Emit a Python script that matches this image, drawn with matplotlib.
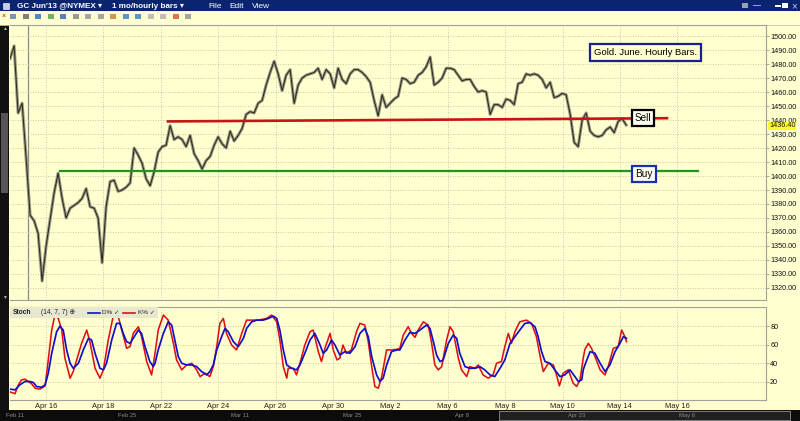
import numpy as np
import matplotlib
matplotlib.use('Agg')
import matplotlib.pyplot as plt
from matplotlib.patches import Rectangle

plt.rcParams['font.family'] = ['Liberation Sans', 'DejaVu Sans']

# ---------------- data ----------------
# hourly closes (sampled roughly every 3 bars), time axis in trading days (Apr 15 = 0)
price_start = -0.25
price_step = 0.1394
close = [1484, 1493, 1445, 1452, 1413, 1372, 1368, 1359, 1325, 1350,
         1369, 1388, 1402, 1384, 1370, 1377, 1379, 1381, 1384, 1391,
         1378, 1377, 1370, 1338, 1378, 1396, 1397, 1389, 1390, 1392,
         1395, 1420, 1415, 1409, 1398, 1393, 1403, 1417, 1421, 1422,
         1436, 1426, 1428, 1426, 1421, 1429, 1416, 1411, 1405, 1411,
         1414, 1422, 1428, 1423, 1420, 1432, 1425, 1429, 1434, 1444,
         1446, 1445, 1452, 1454, 1465, 1474, 1482, 1473, 1461, 1472,
         1476, 1452, 1465, 1470, 1472, 1473, 1474, 1477, 1469, 1476,
         1473, 1463, 1477, 1469, 1466, 1473, 1476, 1476, 1474, 1471,
         1467, 1454, 1443, 1458, 1449, 1452, 1455, 1457, 1470, 1469,
         1466, 1467, 1472, 1474, 1478, 1485, 1465, 1467, 1470, 1477,
         1477, 1476, 1472, 1468, 1469, 1469, 1464, 1460, 1461, 1460,
         1444, 1451, 1451, 1449, 1455, 1454, 1451, 1466, 1467, 1473,
         1472, 1473, 1472, 1469, 1463, 1467, 1456, 1457, 1459, 1458,
         1444, 1424, 1421, 1440, 1445, 1432, 1429, 1428, 1429, 1433,
         1435, 1431, 1439, 1441, 1436.4]
last_price = 1436.40

# trend lines: (start day, start price, end day, end price)
sell_line = (5.25, 1439.0, 22.64, 1441.3)
buy_line = (1.49, 1403.6, 23.72, 1403.6)

# stochastic (14,7,7)
d_days = [-0.25, -0.08, 0.09, 0.27, 0.44, 0.56, 0.67, 0.85, 0.97, 1.08, 1.20, 1.37, 1.49, 1.60,
          1.72, 1.84, 1.95, 2.13, 2.30, 2.48, 2.59, 2.71, 2.88, 3.00, 3.11, 3.29, 3.46, 3.58,
          3.69, 3.81, 3.93, 4.04, 4.22, 4.33, 4.45, 4.62, 4.74, 4.80, 4.91, 5.09, 5.26, 5.38,
          5.49, 5.61, 5.73, 5.90, 6.08, 6.25, 6.42, 6.60, 6.71, 6.83, 6.95, 7.12, 7.24, 7.35,
          7.53, 7.70, 7.88, 7.99, 8.17, 8.34, 8.57, 8.75, 8.92, 9.04, 9.15, 9.27, 9.39, 9.56,
          9.73, 9.85, 10.02, 10.20, 10.37, 10.55, 10.66, 10.78, 10.95, 11.07, 11.24, 11.42,
          11.59, 11.77, 11.94, 12.11, 12.23, 12.35, 12.52, 12.64, 12.75, 12.87, 13.04, 13.22,
          13.33, 13.51, 13.68, 13.86, 14.03, 14.26, 14.38, 14.50, 14.61, 14.73, 14.84, 15.02,
          15.19, 15.31, 15.42, 15.60, 15.77, 15.95, 16.12, 16.29, 16.47, 16.64, 16.82, 16.99,
          17.17, 17.34, 17.51, 17.69, 17.86, 18.04, 18.15, 18.27, 18.39, 18.56, 18.73, 18.91,
          19.08, 19.26, 19.43, 19.55, 19.67, 19.72, 19.78, 19.96, 20.13, 20.31, 20.48, 20.65,
          20.83, 21.00, 21.12, 21.23]
d_vals = [12.2, 11.4, 16.8, 20.4, 20.4, 19.3, 15.0, 14.3, 16.8, 29.3, 50.7, 73.9, 80.0, 75.7,
          54.3, 40.0, 34.6, 40.0, 54.3, 66.8, 65.0, 50.7, 34.6, 32.9, 40.0, 65.0, 82.9, 82.9,
          72.1, 63.2, 61.4, 66.8, 75.7, 72.1, 57.9, 41.8, 36.4, 40.0, 54.3, 72.1, 84.6, 81.1,
          65.0, 47.2, 40.0, 38.2, 38.2, 36.4, 31.1, 27.5, 31.1, 38.2, 54.3, 68.6, 77.5, 73.9,
          63.2, 57.9, 66.8, 77.5, 84.6, 86.4, 86.4, 88.2, 90.7, 88.2, 75.7, 54.3, 38.2, 34.6,
          32.9, 38.2, 50.7, 65.0, 72.1, 59.6, 50.7, 54.3, 65.0, 59.6, 48.9, 52.5,
          50.7, 57.9, 72.1, 77.5, 68.6, 47.2, 27.5, 20.4, 24.0, 38.2, 52.5, 54.3,
          54.3, 65.0, 73.2, 72.1, 75.7, 81.1, 77.5, 63.2, 48.9, 41.8, 43.6, 61.4,
          70.3, 66.8, 50.7, 36.4, 34.6, 34.6, 36.4, 32.9, 27.5, 25.7, 34.6, 43.6,
          61.4, 68.6, 75.7, 82.9, 83.6, 79.3, 68.6, 52.5, 41.8, 40.0, 32.9, 25.7,
          27.5, 32.9, 25.7, 20.4, 22.2, 32.9, 38.2, 52.5, 50.7, 40.0, 31.1, 38.2,
          52.5, 61.4, 68.6, 66.8]
k_days = [-0.25, -0.08, 0.04, 0.15, 0.27, 0.38, 0.50, 0.62, 0.79, 0.97, 1.08, 1.20, 1.31, 1.43,
          1.55, 1.66, 1.84, 1.95, 2.07, 2.24, 2.42, 2.53, 2.71, 2.88, 3.00, 3.17, 3.35, 3.52,
          3.64, 3.81, 3.93, 4.04, 4.22, 4.33, 4.51, 4.68, 4.80, 4.91, 5.09, 5.26, 5.44, 5.55,
          5.73, 5.90, 6.08, 6.25, 6.37, 6.54, 6.71, 6.83, 6.95, 7.06, 7.18, 7.29, 7.47, 7.64,
          7.82, 7.99, 8.17, 8.40, 8.69, 8.86, 9.04, 9.15, 9.27, 9.39, 9.44, 9.62, 9.73, 9.85,
          10.02, 10.20, 10.31, 10.49, 10.60, 10.72, 10.90, 11.01, 11.14, 11.24, 11.35, 11.47,
          11.64, 11.82, 11.94, 12.11, 12.23, 12.35, 12.46, 12.58, 12.70, 12.87, 13.04, 13.22,
          13.33, 13.45, 13.62, 13.74, 13.86, 13.97, 14.15, 14.32, 14.44, 14.55, 14.67, 14.79,
          14.96, 15.08, 15.19, 15.37, 15.48, 15.66, 15.77, 15.95, 16.06, 16.23, 16.41, 16.58,
          16.70, 16.87, 16.99, 17.11, 17.22, 17.34, 17.51, 17.74, 17.92, 18.09, 18.21, 18.33,
          18.50, 18.68, 18.79, 18.89, 19.02, 19.20, 19.37, 19.49, 19.61, 19.72, 19.78, 19.90,
          20.01, 20.13, 20.31, 20.48, 20.59, 20.77, 20.94, 21.06, 21.17, 21.23]
k_vals = [9.1, 7.3, 16.8, 22.2, 22.9, 20.4, 17.9, 13.2, 12.2, 15.7, 43.6, 75.7, 91.8, 88.2,
          75.7, 45.4, 24.0, 31.1, 43.6, 61.4, 75.7, 63.2, 34.6, 24.0, 32.9, 65.0, 91.8, 90.0,
          75.7, 56.1, 57.9, 72.1, 79.3, 68.6, 41.8, 27.5, 50.7, 75.7, 91.8, 86.4, 61.4, 43.6,
          32.9, 38.2, 40.0, 32.9, 25.7, 29.3, 25.7, 36.4, 57.9, 82.9, 88.2, 72.1, 59.6, 54.3,
          72.1, 86.4, 86.4, 86.4, 88.2, 91.8, 84.6, 65.0, 36.4, 24.0, 34.6, 34.6, 27.5, 40.0,
          59.6, 73.9, 75.7, 52.5, 41.8, 56.1, 72.1, 54.3, 43.6, 45.4, 59.6, 50.7,
          54.3, 73.9, 82.9, 81.1, 63.2, 36.4, 15.0, 13.2, 25.7, 54.3, 54.3, 55.0,
          56.0, 70.3, 79.3, 72.1, 67.9, 75.7, 84.6, 81.1, 61.4, 38.2, 32.9, 36.4,
          65.0, 79.3, 73.9, 45.4, 32.9, 25.7, 36.4, 34.6, 38.2, 27.5, 24.0, 27.5,
          40.0, 41.8, 57.9, 72.1, 61.4, 73.9, 84.6, 86.4, 82.9, 68.6, 48.9, 31.1,
          40.0, 38.2, 27.5, 15.7, 29.3, 32.9, 18.6, 15.0, 22.2, 45.4, 55.0, 61.4,
          56.0, 47.2, 32.9, 27.5, 36.4, 56.0, 57.9, 75.7, 68.6, 63.2]

tick_days = [1, 3, 5, 7, 9, 11, 13, 15, 17, 19, 21, 23]
tick_labels = ['Apr 16', 'Apr 18', 'Apr 22', 'Apr 24', 'Apr 26', 'Apr 30',
               'May 2', 'May 6', 'May 8', 'May 10', 'May 14', 'May 16']
price_ticks = list(range(1320, 1501, 10))
stoch_ticks = [20, 40, 60, 80]
nav_labels = ['Feb 11', 'Feb 25', 'Mar 11', 'Mar 25', 'Apr 8', 'Apr 23', 'May 6']

# ---------------- style ----------------
BG = '#FFFFD0'
NAVY = '#0B2470'
W, H = 800, 421
XL = (-0.254, 26.09)

fig = plt.figure(figsize=(W / 100, H / 100), dpi=100, facecolor=BG)

chrome = fig.add_axes([0, 0, 1, 1], zorder=0)
chrome.set_xlim(0, W)
chrome.set_ylim(H, 0)
chrome.axis('off')

# title bar
chrome.add_patch(Rectangle((0, 0), W, 11, color=NAVY, lw=0))
chrome.add_patch(Rectangle((3, 2.5), 6, 6, facecolor='#c8d0e8', edgecolor='#ffffff', lw=0.4))
tb = dict(color='white', fontsize=5.9, fontweight='bold', va='center', ha='left')
chrome.text(17, 6, "GC Jun'13 @NYMEX \u25BE", **tb)
chrome.text(112, 6, "1 mo/hourly bars \u25BE", **tb)
tm = dict(color='white', fontsize=6.0, va='center', ha='left')
chrome.text(208, 6, "File", **tm)
chrome.text(229, 6, "Edit", **tm)
chrome.text(252, 6, "View", **tm)
chrome.add_patch(Rectangle((742, 3), 6, 5, color='#9aa0b0', lw=0))
chrome.add_patch(Rectangle((753, 5), 8, 1.2, color='#9aa0b0', lw=0))
chrome.add_patch(Rectangle((775, 5), 6, 2, color='white', lw=0))
chrome.add_patch(Rectangle((782, 3), 6, 5, color='white', lw=0))
chrome.text(794, 6, "\u00D7", color='#c0c8e0', fontsize=7, va='center', ha='center')

# toolbar icons
chrome.text(3.5, 16, '\u00D7', color='#aa0000', fontsize=5, va='center', ha='center')
icon_cols = ['#5a7ab0', '#606060', '#2070c0', '#50a050', '#3060b0', '#808080', '#909090',
             '#909090', '#c08030', '#3080c0', '#3080c0', '#b0b0b0', '#b0b0b0', '#d05030', '#909090']
for i, c in enumerate(icon_cols):
    chrome.add_patch(Rectangle((10 + i * 12.5, 14), 6, 5, color=c, lw=0, alpha=0.8))
chrome.plot([0, W], [24.5, 24.5], color='#c8c8b0', lw=0.6)

# left scrollbar
chrome.add_patch(Rectangle((0, 25), 9, 385, color='#111111', lw=0))
chrome.add_patch(Rectangle((1, 113), 7, 80, color='#555555', lw=0))
chrome.text(4.5, 29, '\u25B2', color='#bbbbbb', fontsize=3.5, ha='center', va='center')
chrome.text(4.5, 297, '\u25BC', color='#bbbbbb', fontsize=3.5, ha='center', va='center')

# bottom navigator
chrome.add_patch(Rectangle((0, 410), W, 11, color='#0c0c0c', lw=0))
chrome.add_patch(Rectangle((499, 411), 291, 9, facecolor='#202020', edgecolor='#909090', lw=0.6))
nav_x = [15, 127, 240, 352, 462, 577, 687]
for nx, lab in zip(nav_x, nav_labels):
    chrome.text(nx, 415.5, lab, color='#8a8a8a', fontsize=4.2, ha='center', va='center')

# ---------------- price panel ----------------
ax = fig.add_axes([10 / W, 1 - 300 / H, 756 / W, 275 / H], facecolor=BG, zorder=2)
days = price_start + price_step * np.arange(len(close))
ax.plot(days, close, color='#9a9a82', lw=2.2, zorder=3)
ax.plot(days, close, color='#2b2b22', lw=0.75, zorder=4)
ax.axvline(0.37, color='#8a8a8a', lw=0.9, zorder=1)

ax.plot([sell_line[0], sell_line[2]], [sell_line[1], sell_line[3]], color='#c81414', lw=1.9, zorder=5)
ax.plot([buy_line[0], buy_line[2]], [buy_line[1], buy_line[3]], color='#1a9a1a', lw=1.6, zorder=5)

ax.set_xlim(*XL)
ax.set_ylim(1311.4, 1507.9)
ax.set_xticks(tick_days)
ax.set_yticks(price_ticks)
ax.grid(True, color='#b8b8a0', lw=0.6, ls=(0, (1, 2)))
ax.tick_params(axis='x', length=0, labelbottom=False)
ax.yaxis.tick_right()
ax.tick_params(axis='y', length=2, width=0.5, color='#888888', labelsize=5.2, pad=1,
               labelcolor='#111111')
ax.set_yticklabels([f'{v:.2f}' for v in price_ticks])
ax.spines['left'].set_visible(False)
for s in ['top', 'right', 'bottom']:
    ax.spines[s].set_color('#a0a0a0')
    ax.spines[s].set_linewidth(0.8)

ax.annotate(f'{last_price:.2f}', xy=(1.0, last_price), xycoords=('axes fraction', 'data'),
            xytext=(2.2, -0.6), textcoords='offset points', fontsize=5.2, va='center', ha='left',
            color='#111111', bbox=dict(boxstyle='square,pad=0.08', fc='#ffff20', ec='none'), zorder=10,
            annotation_clip=False)

ax.text(21.9, 1488.2, 'Gold. June. Hourly Bars.', fontsize=6.8, ha='center', va='center', color='black',
        bbox=dict(boxstyle='square,pad=0.4', fc=BG, ec='#1a2090', lw=1.6), zorder=8)
ax.text(21.8, 1441.4, 'Sell', fontsize=7.2, ha='center', va='center', color='black',
        bbox=dict(boxstyle='square,pad=0.3', fc='#fffff0', ec='black', lw=1.6), zorder=8)
ax.text(21.84, 1401.4, 'Buy', fontsize=7.2, ha='center', va='center', color='black',
        bbox=dict(boxstyle='square,pad=0.3', fc='#fffff0', ec='#1a30b0', lw=1.6), zorder=8)

# ---------------- stochastic panel ----------------
ax2 = fig.add_axes([10 / W, 1 - 400 / H, 756 / W, 93 / H], facecolor=BG, zorder=2)
ax2.plot(k_days, k_vals, color='#e01010', lw=1.15, zorder=3)
ax2.plot(d_days, d_vals, color='#1010c8', lw=1.25, zorder=4)
ax2.set_xlim(*XL)
ax2.set_ylim(0.5, 100.5)
ax2.set_xticks(tick_days)
ax2.set_xticklabels(tick_labels)
ax2.set_yticks(stoch_ticks)
ax2.grid(True, color='#b8b8a0', lw=0.6, ls=(0, (1, 2)))
ax2.yaxis.tick_right()
ax2.tick_params(axis='y', length=2, width=0.5, color='#888888', labelsize=5.2, pad=1,
                labelcolor='#111111')
ax2.tick_params(axis='x', length=0, labelsize=5.4, pad=2.5, labelcolor='#222222')
ax2.spines['left'].set_visible(False)
for s in ['top', 'right', 'bottom']:
    ax2.spines[s].set_color('#a0a0a0')
    ax2.spines[s].set_linewidth(0.8)

# stoch header
hdr = Rectangle((0, 0.885), 0.196, 0.115, transform=ax2.transAxes, facecolor='#e8e8d0',
                edgecolor='none', zorder=6)
ax2.add_patch(hdr)
ax2.text(0.004, 0.94, 'Stoch', transform=ax2.transAxes, fontsize=4.8, fontweight='bold',
         va='center', ha='left', zorder=7, color='#222222')
ax2.text(0.041, 0.94, '(14, 7, 7) \u2295', transform=ax2.transAxes, fontsize=4.8,
         va='center', ha='left', zorder=7, color='#222222')
ax2.plot([0.103, 0.119], [0.94, 0.94], transform=ax2.transAxes, color='#1010c8', lw=1.2, zorder=7)
ax2.text(0.122, 0.94, 'D% \u2713', transform=ax2.transAxes, fontsize=4.6, va='center', ha='left',
         zorder=7, color='#222222')
ax2.plot([0.150, 0.166], [0.94, 0.94], transform=ax2.transAxes, color='#e01010', lw=1.2, zorder=7)
ax2.text(0.169, 0.94, 'K% \u2713', transform=ax2.transAxes, fontsize=4.6, va='center', ha='left',
         zorder=7, color='#222222')

fig.savefig('out.png', dpi=100, facecolor=BG)
